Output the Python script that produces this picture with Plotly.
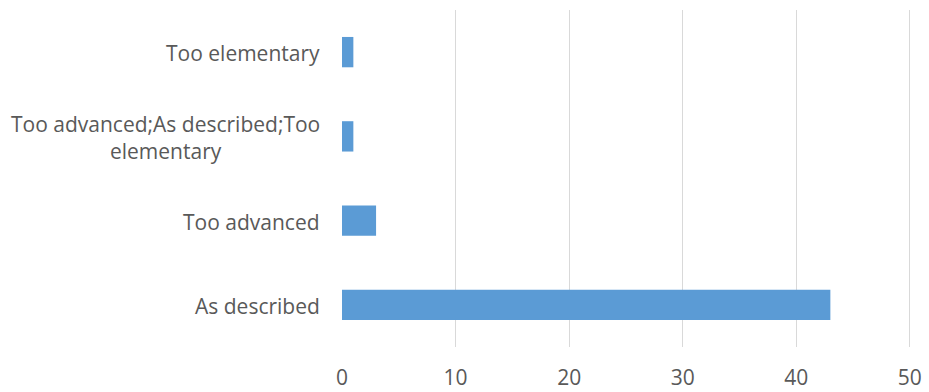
import plotly.graph_objects as go

categories = ["As described", "Too advanced", "Too advanced;As described;Too elementary", "Too elementary"]
label_text = ["As described", "Too advanced", "Too advanced;As described;Too<br>elementary", "Too elementary"]
counts = [43, 3, 1, 1]
x_ticks = [0, 10, 20, 30, 40, 50]

FONT = "Open Sans"
TXT = "#595959"

fig = go.Figure()
fig.add_trace(go.Bar(
    x=counts, y=categories, orientation="h",
    marker=dict(color="#5B9BD5", line=dict(width=0)),
    hoverinfo="x+y",
))

for cat, lab in zip(categories, label_text):
    fig.add_annotation(
        x=0, xref="paper", y=cat, yref="y",
        text=lab, showarrow=False, xanchor="right", yanchor="middle",
        xshift=-20, yshift=-1, align="center",
        font=dict(family=FONT, size=21, color=TXT),
    )

fig.update_layout(
    width=929, height=392,
    margin=dict(l=342, r=18, t=10, b=45),
    paper_bgcolor="white", plot_bgcolor="white",
    bargap=0.64,
    showlegend=False,
    xaxis=dict(
        range=[0, 50.1], tickvals=x_ticks, showgrid=True, gridcolor="#d9d9d9", gridwidth=1,
        zeroline=False, showline=False, ticks="", automargin=False,
        tickfont=dict(family=FONT, size=21, color=TXT), ticklabelstandoff=16,
    ),
    yaxis=dict(
        showticklabels=False, showgrid=False, zeroline=False, showline=False, ticks="",
        automargin=False,
    ),
)

fig.write_html("out.html")
